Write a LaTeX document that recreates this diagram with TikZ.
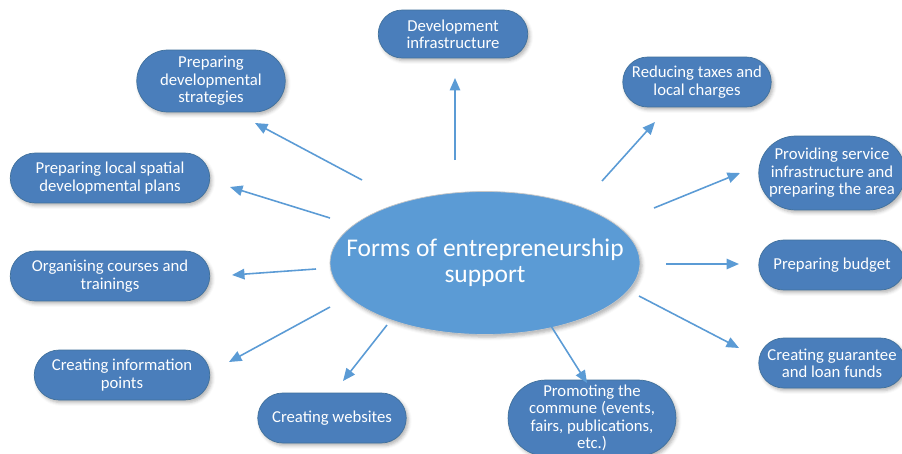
\documentclass[tikz,border=0pt]{standalone}
\usepackage{fontspec}
\setmainfont{Carlito}
\usetikzlibrary{shapes.geometric, shapes.misc, arrows.meta, shadows.blur}
\definecolor{nodeBlue}{HTML}{4A7EBB}
\definecolor{nodeEdge}{HTML}{41719C}
\definecolor{hubBlue}{HTML}{5B9BD5}
\definecolor{arrowBlue}{HTML}{5B9BD5}

\begin{document}
\begin{tikzpicture}[x=0.02cm, y=-0.02cm,
    box/.style={rounded rectangle, draw=nodeEdge, fill=nodeBlue, text=white, align=center,
        font=\fontsize{9.5}{9.9}\selectfont, minimum width=3.04cm, minimum height=1cm, inner sep=1pt,
        blur shadow={shadow xshift=1.2pt, shadow yshift=-1.5pt, shadow opacity=30, shadow blur steps=4}},
    hub/.style={ellipse, draw=black!22, fill=hubBlue, text=white, align=center, inner xsep=-22pt, inner ysep=0pt,
        font=\fontsize{14.5}{15}\selectfont, minimum width=6.2cm, minimum height=2.86cm,
        blur shadow={shadow xshift=1.2pt, shadow yshift=-1.5pt, shadow opacity=30, shadow blur steps=4}},
    arrow/.style={-{Triangle[length=0.25cm, width=0.21cm]}, draw=arrowBlue, line width=0.9pt},
]
    \useasboundingbox (0,0) rectangle (902,453);

    % Centre
    \node[hub] (hub) at (485,263) {Forms of entrepreneurship\\support};

    % Top and left
    \node[box, minimum width=3.06cm, minimum height=0.96cm] (dev) at (453,34) {Development\\infrastructure};
    \node[box, minimum height=1.24cm] (strat) at (211,81) {Preparing\\developmental\\strategies};
    \node[box, minimum width=4.06cm] (spatial) at (110,178) {Preparing local spatial\\developmental plans};
    \node[box, minimum width=4.06cm] (courses) at (110,276) {Organising courses and\\trainings};
    \node[box, minimum width=3.58cm] (info) at (122,375) {Creating information\\points};
    \node[box] (web) at (332,418) {Creating websites};

    % Right and bottom
    \node[box] (taxes) at (697,82) {Reducing taxes and\\local charges};
    \node[box, minimum width=3.0cm, minimum height=1.48cm] (service) at (832,173) {Providing service\\infrastructure and\\preparing the area};
    \node[box, minimum width=3.0cm] (budget) at (832,265) {Preparing budget};
    \node[box, minimum width=3.0cm] (guarantee) at (832,363) {Creating guarantee\\and loan funds};
    \node[box, minimum width=3.12cm, minimum height=1.52cm] (promo) at (592,418) {Promoting the\\commune (events,\\fairs, publications,\\etc.)};

    \draw[arrow] ([shift={(-30,-103)}]hub.center) -- ([shift={(2,44)}]dev.center);
    \draw[arrow] ([shift={(-123,-83)}]hub.center) -- ([shift={(44,42)}]strat.center);
    \draw[arrow] ([shift={(-155,-45)}]hub.center) -- ([shift={(120,9)}]spatial.center);
    \draw[arrow] ([shift={(-169,6)}]hub.center) -- ([shift={(122,-1)}]courses.center);
    \draw[arrow] ([shift={(-155,44)}]hub.center) -- ([shift={(107,-13)}]info.center);
    \draw[arrow] ([shift={(-98,62)}]hub.center) -- ([shift={(11,-37)}]web.center);
    \draw[arrow] ([shift={(117,-82)}]hub.center) -- ([shift={(-42,40)}]taxes.center);
    \draw[arrow] ([shift={(169,-55)}]hub.center) -- ([shift={(-92,0)}]service.center);
    \draw[arrow] ([shift={(181,1)}]hub.center) -- ([shift={(-93,-1)}]budget.center);
    \draw[arrow] ([shift={(154,33)}]hub.center) -- ([shift={(-93,-15)}]guarantee.center);
    \draw[arrow] ([shift={(66,63)}]hub.center) -- ([shift={(-5,-35)}]promo.center);
\end{tikzpicture}
\end{document}
